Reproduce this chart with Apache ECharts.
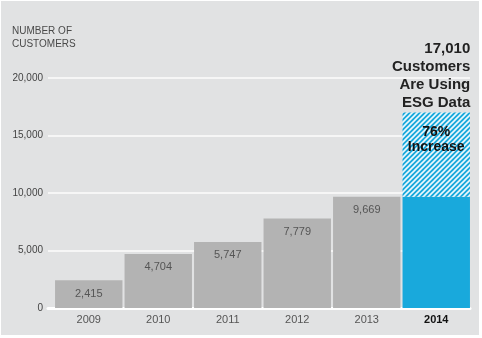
<!DOCTYPE html>
<html>
<head>
<meta charset="utf-8">
<script src="https://cdn.jsdelivr.net/npm/echarts@6/dist/echarts.min.js"></script>
<style>
html,body{margin:0;padding:0;background:#ffffff;}
#bg{position:absolute;left:1px;top:1px;width:478px;height:334px;background:#e1e2e3;}
#chart{position:absolute;left:0;top:0;width:482px;height:338px;}
</style>
</head>
<body>
<div id="bg"></div>
<div id="chart"></div>
<script>
// ---- data ----
const categories = ['2009', '2010', '2011', '2012', '2013', '2014'];
const customers = [2415, 4704, 5747, 7779, 9669, 17010];
const yMin = 0, yMax = 20000, yInterval = 5000;
const axisTitle = ['NUMBER OF', 'CUSTOMERS'];
const headlineWords = ['Customers', 'Are Using', 'ESG Data'];
const increaseText = ['76%', 'Increase'];

const fmt = v => Number(v).toLocaleString('en-US');
const last = customers.length - 1;
const prev = customers[last - 1];

const grayData = customers.map((v, i) => i < last ? v : '-');
const baseData = customers.map((v, i) => i === last ? prev : '-');
const growthData = customers.map((v, i) => i === last ? v - prev : '-');

// hatch pattern
const pc = document.createElement('canvas');
const T = 5;
pc.width = T; pc.height = T;
const g = pc.getContext('2d');
g.fillStyle = '#19a9dc';
g.fillRect(0, 0, T, T);
g.strokeStyle = 'rgba(255,255,255,0.92)';
g.lineWidth = 1.6;
g.beginPath();
g.moveTo(-1, T + 1); g.lineTo(T + 1, -1);
g.moveTo(-1, 1); g.lineTo(1, -1);
g.moveTo(T - 1, T + 1); g.lineTo(T + 1, T - 1);
g.stroke();

const FONT = "'Liberation Sans', Arial, Helvetica, sans-serif";

const chart = echarts.init(document.getElementById('chart'), null, {renderer: 'canvas'});
chart.setOption({
  backgroundColor: 'transparent',
  animation: false,
  textStyle: {fontFamily: FONT},
  title: {
    text: axisTitle.join('\n'),
    left: 12, top: 25, padding: 0,
    textStyle: {fontSize: 10, fontWeight: 'normal', color: '#4a4a4a', lineHeight: 13, fontFamily: FONT}
  },
  grid: [
    {left: 54, right: 11, top: 78, bottom: 30},
    {left: 48, right: 12, top: 78, bottom: 30}
  ],
  xAxis: [
    {
      type: 'category', gridIndex: 0, data: categories,
      axisLine: {show: false}, axisTick: {show: false},
      axisLabel: {
        margin: 6, fontSize: 11, color: '#555', fontFamily: FONT,
        formatter: (v, i) => i === last ? '{b|' + v + '}' : v,
        rich: {b: {fontSize: 11, fontWeight: 'bold', color: '#111', fontFamily: FONT}}
      },
      splitLine: {show: false}
    },
    {
      type: 'value', gridIndex: 1, min: 0, max: 1,
      axisLine: {show: true, onZero: false, lineStyle: {color: '#ffffff', width: 3}},
      axisTick: {show: false}, axisLabel: {show: false}, splitLine: {show: false}
    }
  ],
  yAxis: [
    {
      type: 'value', gridIndex: 0, min: yMin, max: yMax, interval: yInterval,
      axisLine: {show: false}, axisTick: {show: false}, axisLabel: {show: false},
      splitLine: {show: false}
    },
    {
      type: 'value', gridIndex: 1, min: yMin, max: yMax, interval: yInterval,
      axisLine: {show: false}, axisTick: {show: false},
      axisLabel: {margin: 5, fontSize: 10, color: '#444', fontFamily: FONT, formatter: v => fmt(v)},
      splitLine: {show: true, lineStyle: {color: '#f6f6f6', width: 2}}
    }
  ],
  series: [
    {
      type: 'bar', xAxisIndex: 0, yAxisIndex: 0, stack: 'total',
      data: grayData, barCategoryGap: '3%', z: 3,
      itemStyle: {color: '#b3b3b3'},
      label: {show: true, position: 'insideTop', distance: 8, fontSize: 11, color: '#555', fontFamily: FONT,
        formatter: p => fmt(p.value)}
    },
    {
      type: 'bar', xAxisIndex: 0, yAxisIndex: 0, stack: 'total',
      data: baseData, z: 3,
      itemStyle: {color: '#19a9dc'}
    },
    {
      type: 'bar', xAxisIndex: 0, yAxisIndex: 0, stack: 'total',
      data: growthData, z: 3,
      itemStyle: {color: {image: pc, repeat: 'repeat'}},
      label: {show: true, position: 'insideTop', distance: 12, fontSize: 14, fontWeight: 'bold',
        lineHeight: 15, color: '#111', fontFamily: FONT, formatter: increaseText.join('\n')},
      markPoint: {
        symbol: 'circle', symbolSize: 0,
        data: [{coord: [categories[last], customers[last]]}],
        label: {
          show: true, position: 'top', distance: 1, align: 'right', offset: [34, 0],
          fontSize: 15, fontWeight: 'bold', lineHeight: 18, color: '#222', fontFamily: FONT,
          formatter: () => [fmt(customers[last])].concat(headlineWords).join('\n')
        }
      }
    }
  ]
});
</script>
</body>
</html>
